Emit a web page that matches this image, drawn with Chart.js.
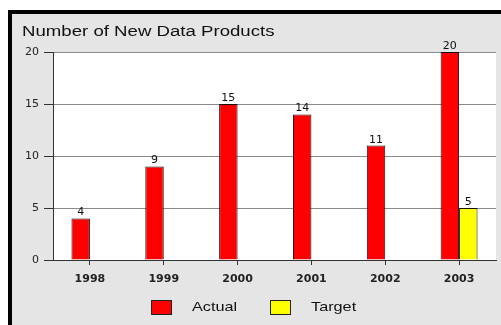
<!DOCTYPE html>
<html>
<head>
<meta charset="utf-8">
<script src="https://cdn.jsdelivr.net/npm/chart.js@4/dist/chart.umd.min.js"></script>
<style>
  html, body { margin: 0; padding: 0; background: #fff; }
  #frame {
    position: absolute; left: 8px; top: 10px;
    width: 489px; height: 311px;
    border-left: 4px solid #000; border-top: 4px solid #000;
    background: #e5e5e5;
  }
  canvas { display: block; }
</style>
</head>
<body>
<div id="frame"><canvas id="chart" width="489" height="311"></canvas></div>
<script>
// data
const years = ['1998', '1999', '2000', '2001', '2002', '2003'];
const actual = [4, 9, 15, 14, 11, 20];
const target = [null, null, null, null, null, 5];
const yTicks = [0, 5, 10, 15, 20];
const title = 'Number of New Data Products';

// text in the original is a bit stretched sideways
function wideText(ctx, text, x, y, sx) {
    ctx.save();
    ctx.translate(x, y);
    ctx.scale(sx, 1);
    ctx.fillText(text, 0, 0);
    ctx.restore();
}

const extras = {
    id: 'extras',
    beforeDraw(chart) {
        const a = chart.chartArea;
        const ctx = chart.ctx;
        ctx.save();
        ctx.fillStyle = '#fff';
        ctx.fillRect(a.left, a.top, a.right - a.left, a.bottom - a.top);
        ctx.restore();
    },
    afterDatasetsDraw(chart) {
        const ctx = chart.ctx;
        ctx.save();
        ctx.font = '11px "DejaVu Sans"';
        ctx.fillStyle = '#111';
        ctx.textAlign = 'center';
        ctx.textBaseline = 'alphabetic';
        chart.data.datasets.forEach((ds, i) => {
            chart.getDatasetMeta(i).data.forEach((bar, j) => {
                if (ds.data[j] == null) return;
                ctx.fillText(String(ds.data[j]), bar.x, bar.y - 3);
            });
        });
        ctx.restore();
    },
    afterDraw(chart) {
        const ctx = chart.ctx;
        ctx.save();
        ctx.fillStyle = '#111';
        ctx.textBaseline = 'alphabetic';
        ctx.font = '14px "Liberation Sans"';
        wideText(ctx, title, 10, 22, 1.33);

        // legend
        ctx.font = '13px "Liberation Sans"';
        const boxW = 21, boxH = 15, gap = 20, between = 33, sx = 1.25;
        const items = chart.data.datasets.map(ds => ({
            label: ds.label, color: ds.backgroundColor,
            w: ctx.measureText(ds.label).width * sx
        }));
        let total = 0;
        items.forEach((it, i) => { total += boxW + gap + it.w + (i ? between : 0); });
        let x = Math.round(chart.width / 2 - 3 - total / 2);
        const by = 286;
        items.forEach(it => {
            ctx.fillStyle = it.color;
            ctx.fillRect(x, by, boxW, boxH);
            ctx.strokeStyle = '#222';
            ctx.lineWidth = 1;
            ctx.strokeRect(x + 0.5, by + 0.5, boxW - 1, boxH - 1);
            ctx.fillStyle = '#111';
            wideText(ctx, it.label, x + boxW + gap, 297, sx);
            x += Math.round(boxW + gap + it.w + between);
        });
        ctx.restore();
    }
};

new Chart(document.getElementById('chart'), {
    type: 'bar',
    data: {
        labels: years,
        datasets: [
            { label: 'Actual', data: actual, backgroundColor: '#ff0000', borderColor: '#111', borderWidth: 1 },
            { label: 'Target', data: target, backgroundColor: '#ffff00', borderColor: '#111', borderWidth: 1 }
        ]
    },
    options: {
        responsive: false,
        animation: false,
        layout: { padding: { left: 0, top: 38, right: 5, bottom: 35 } },
        datasets: { bar: { categoryPercentage: 0.5, barPercentage: 1 } },
        plugins: { legend: { display: false }, tooltip: { enabled: false } },
        scales: {
            x: {
                afterFit(scale) { scale.height = 30; },
                grid: { offset: false, drawOnChartArea: false, tickLength: 5, tickColor: '#333' },
                border: { color: '#333', width: 1 },
                ticks: { color: '#222', font: { family: 'DejaVu Sans', size: 11, weight: 'bold' }, padding: 8 }
            },
            y: {
                min: 0, max: 20,
                afterFit(scale) { scale.width = 41; },
                afterBuildTicks(scale) { scale.ticks = yTicks.map(v => ({ value: v })); },
                grid: { color: '#8a8a8a', tickLength: 9, tickColor: '#333' },
                border: { color: '#333', width: 1 },
                ticks: { color: '#222', font: { family: 'DejaVu Sans', size: 11 }, padding: 5 }
            }
        }
    },
    plugins: [extras]
});
</script>
</body>
</html>
